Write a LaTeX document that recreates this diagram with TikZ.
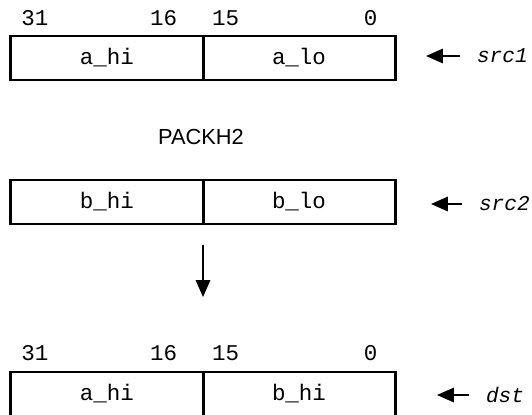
\documentclass[tikz,border=0pt]{standalone}
\usepackage{fontspec}
\setmonofont{Liberation Mono}
\newfontfamily\opfont{Liberation Sans}
\usetikzlibrary{arrows.meta, positioning}

\begin{document}
\begin{tikzpicture}[x=0.025cm,y=-0.025cm,
  half/.style={rectangle,draw,line width=2.1pt,outer sep=0pt,minimum width=4.8cm,minimum height=1.1cm,inner sep=0pt,font=\fontsize{16}{18}\selectfont\ttfamily},
  bitno/.style={anchor=base,inner sep=0pt,font=\fontsize{16}{18}\selectfont\ttfamily},
  reg/.style={anchor=west,inner xsep=0.42cm,inner ysep=0pt,font=\fontsize{15}{17}\selectfont\ttfamily\itshape},
  ptr/.style={-{Triangle[length=0.42cm,width=0.36cm]},line width=1.1pt}
]
  \useasboundingbox (0,0) rectangle (532,414);

  % src1
  \node[bitno] (s31) at (35,25)    {31};
  \node[bitno] (s16) at (163.5,25) {16};
  \node[bitno] (s15) at (225.5,25) {15};
  \node[bitno] (s0)  at (370.5,25) {0};
  \node[half] (ahi) at (107,58) {a\_hi};
  \node[half] (alo) at (299,58) {a\_lo};
  \node[reg] (src1) at (460,56) {src1};
  \coordinate (in1) at (426,56);
  \draw[ptr] (src1.west) -- (in1);

  \node[font=\opfont\fontsize{15.5}{17}\selectfont] (op) at (201,137) {PACKH2};

  % src2
  \node[half] (bhi) at (107,202) {b\_hi};
  \node[half] (blo) at (299,202) {b\_lo};
  \node[reg] (src2) at (462,204) {src2};
  \coordinate (in2) at (431,204);
  \draw[ptr] (src2.west) -- (in2);

  \coordinate (res) at (203,297);
  \draw[ptr,shorten <=0.52cm] (bhi.south east) -- (res);

  % dst
  \node[bitno] (d31) at (35,360)    {31};
  \node[bitno] (d16) at (163.5,360) {16};
  \node[bitno] (d15) at (225.5,360) {15};
  \node[bitno] (d0)  at (370.5,360) {0};
  \node[half] (dhi) at (107,394) {a\_hi};
  \node[half] (dlo) at (299,394) {b\_hi};
  \node[reg] (dst) at (469,395) {dst};
  \coordinate (in3) at (437,395);
  \draw[ptr] (dst.west) -- (in3);
\end{tikzpicture}
\end{document}
